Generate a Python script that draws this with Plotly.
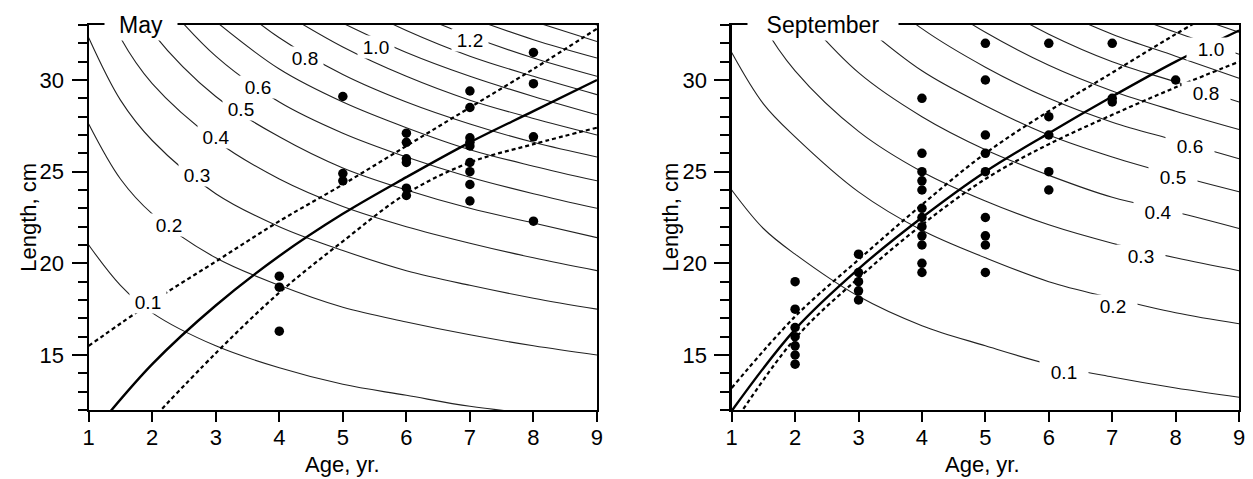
import plotly.graph_objects as go

# ---------------- data ----------------
contour_ages = [1, 1.5, 2, 3, 4, 5, 6, 7, 8, 9]

may_levels = [0.1, 0.2, 0.3, 0.4, 0.5, 0.6, 0.7, 0.8, 0.9, 1.0, 1.1, 1.2, 1.3, 1.4, 1.5]
may_contour_len = [
    [21.0, 18.8, 17.3, 15.5, 14.3, 13.4, 12.8, 12.2, 11.8, 11.4],
    [27.6, 24.6, 22.7, 20.3, 18.8, 17.6, 16.8, 16.1, 15.5, 15.0],
    [32.3, 28.9, 26.7, 23.8, 22.0, 20.7, 19.6, 18.8, 18.1, 17.5],
    [36.2, 32.3, 29.8, 26.7, 24.6, 23.1, 22.0, 21.1, 20.3, 19.6],
    [39.5, 35.3, 32.6, 29.1, 26.9, 25.2, 24.0, 23.0, 22.2, 21.4],
    [42.4, 37.9, 35.0, 31.3, 28.8, 27.1, 25.8, 24.7, 23.8, 23.0],
    [45.0, 40.2, 37.1, 33.2, 30.6, 28.8, 27.4, 26.2, 25.3, 24.5],
    [47.5, 42.4, 39.1, 35.0, 32.3, 30.3, 28.8, 27.6, 26.6, 25.8],
    [49.7, 44.4, 41.0, 36.6, 33.8, 31.8, 30.2, 28.9, 27.9, 27.0],
    [51.8, 46.3, 42.7, 38.2, 35.2, 33.1, 31.5, 30.2, 29.1, 28.1],
    [53.8, 48.0, 44.4, 39.6, 36.6, 34.4, 32.7, 31.3, 30.2, 29.2],
    [55.6, 49.7, 45.9, 41.0, 37.8, 35.6, 33.8, 32.4, 31.2, 30.2],
    [57.4, 51.3, 47.4, 42.3, 39.1, 36.7, 34.9, 33.4, 32.2, 31.2],
    [59.1, 52.8, 48.7, 43.6, 40.2, 37.8, 35.9, 34.4, 33.2, 32.1],
    [60.7, 54.3, 50.1, 44.8, 41.3, 38.8, 36.9, 35.4, 34.1, 33.0],
]
may_labels = ["0.1", "0.2", "0.3", "0.4", "0.5", "0.6", "0.8", "1.0", "1.2"]
may_label_age = [1.93, 2.27, 2.70, 3.00, 3.39, 3.67, 4.40, 5.52, 7.00]
may_label_len = [17.9, 22.1, 24.8, 26.9, 28.4, 29.6, 31.2, 31.8, 32.2]

sep_levels = [0.1, 0.2, 0.3, 0.4, 0.5, 0.6, 0.7, 0.8, 0.9, 1.0, 1.1]
sep_contour_len = [
    [24.0, 21.9, 20.5, 18.2, 16.6, 15.5, 14.5, 13.8, 13.2, 12.7],
    [31.5, 28.7, 26.9, 23.9, 21.8, 20.3, 19.0, 18.1, 17.3, 16.7],
    [36.9, 33.0, 30.5, 27.2, 25.0, 23.4, 22.1, 21.1, 20.3, 19.6],
    [41.3, 36.8, 34.0, 30.4, 28.0, 26.2, 24.8, 23.6, 22.8, 21.9],
    [45.1, 40.2, 37.2, 33.2, 30.5, 28.6, 27.0, 25.8, 24.8, 23.9],
    [48.5, 43.2, 39.9, 35.6, 32.8, 30.7, 29.0, 27.7, 26.7, 25.7],
    [51.5, 45.9, 42.4, 37.8, 34.8, 32.6, 30.8, 29.4, 28.3, 27.3],
    [54.2, 48.4, 44.7, 39.9, 36.7, 34.4, 32.5, 31.0, 29.9, 28.8],
    [56.8, 50.7, 46.8, 41.8, 38.4, 36.0, 34.0, 32.5, 31.3, 30.1],
    [59.2, 52.8, 48.7, 43.5, 40.0, 37.5, 35.5, 33.9, 32.6, 31.4],
    [61.5, 54.8, 50.6, 45.2, 41.6, 39.0, 36.8, 35.2, 33.8, 32.6],
]
sep_labels = ["0.1", "0.2", "0.3", "0.4", "0.5", "0.6", "0.8", "1.0"]
sep_label_age = [6.24, 7.02, 7.46, 7.72, 7.96, 8.22, 8.48, 8.55]
sep_label_len = [14.1, 17.7, 20.4, 22.8, 24.7, 26.4, 29.3, 31.7]

fit_ages = [1, 2, 3, 4, 5, 6, 7, 8, 9]
may_fit = [10.5, 14.5, 17.7, 20.4, 22.7, 24.7, 26.6, 28.3, 30.0]
may_upper = [15.5, 17.9, 20.1, 22.3, 24.3, 26.4, 28.5, 30.6, 32.8]
may_lower_ages = [2, 3, 4, 5, 6, 7, 8, 9]
may_lower = [11.5, 15.1, 18.4, 21.2, 23.8, 25.5, 26.5, 27.4]

sep_fit = [11.95, 16.4, 19.7, 22.5, 25.0, 27.1, 29.1, 31.0, 32.7]
sep_upper = [13.2, 17.1, 20.2, 23.2, 26.0, 28.3, 30.4, 32.5, 34.5]
sep_lower = [11.1, 15.9, 19.2, 22.1, 24.6, 26.5, 28.1, 29.6, 31.0]

may_dot_age = [4, 4, 4, 5, 5, 5, 6, 6, 6, 6, 6, 6,
               7, 7, 7, 7, 7, 7, 7, 7, 7, 8, 8, 8, 8]
may_dot_len = [19.3, 18.7, 16.3, 29.1, 24.9, 24.5, 27.1, 26.6, 25.7, 25.5, 24.1, 23.7,
               29.4, 28.5, 26.85, 26.6, 26.4, 25.5, 25.0, 24.3, 23.4, 31.5, 29.8, 26.9, 22.3]

sep_dot_age = [2] * 7 + [3] * 5 + [4] * 12 + [5] * 9 + [6] * 5 + [7] * 3 + [8]
sep_dot_len = [19.0, 17.5, 16.5, 16.0, 15.5, 15.0, 14.5,
               20.5, 19.5, 19.0, 18.5, 18.0,
               29.0, 26.0, 25.0, 24.5, 24.0, 23.0, 22.5, 22.0, 21.5, 21.0, 20.0, 19.5,
               32.0, 30.0, 27.0, 26.0, 25.0, 22.5, 21.5, 21.0, 19.5,
               32.0, 28.0, 27.0, 25.0, 24.0,
               32.0, 29.0, 28.8,
               30.0]

x_ticks = [1, 2, 3, 4, 5, 6, 7, 8, 9]
y_ticks = [15, 20, 25, 30]
y_range = [12, 33]
x_range = [1, 9]

# ---------------- figure ----------------
FONT = "Liberation Sans, Arial, Helvetica, sans-serif"
W, H = 1253, 479
fig = go.Figure()


def visible(ages, lens):
    xs, ys = [], []
    n = len(lens)
    for i in range(n):
        ok = any(y_range[0] - 0.01 <= lens[j] <= y_range[1] + 0.01
                 for j in range(max(0, i - 1), min(n, i + 2)))
        if ok:
            xs.append(ages[i])
            ys.append(lens[i])
    return xs, ys


def panel(xa, ya, contours, fit_x, fit_y, up_x, up_y, lo_x, lo_y, dx, dy):
    for lens in contours:
        xs, ys = visible(contour_ages, lens)
        fig.add_trace(go.Scatter(x=xs, y=ys, mode="lines", xaxis=xa, yaxis=ya,
                                 line=dict(color="#222222", width=1.1, shape="spline"),
                                 hoverinfo="skip", showlegend=False))
    fig.add_trace(go.Scatter(x=fit_x, y=fit_y, mode="lines", xaxis=xa, yaxis=ya,
                             line=dict(color="black", width=2.4, shape="spline"),
                             showlegend=False))
    for xs, ys in ((up_x, up_y), (lo_x, lo_y)):
        fig.add_trace(go.Scatter(x=xs, y=ys, mode="lines", xaxis=xa, yaxis=ya,
                                 line=dict(color="black", width=2.2, dash="4px,3px",
                                           shape="spline"),
                                 showlegend=False))
    fig.add_trace(go.Scatter(x=dx, y=dy, mode="markers", xaxis=xa, yaxis=ya,
                             marker=dict(color="black", size=9.5),
                             showlegend=False))


panel("x", "y", may_contour_len, fit_ages, may_fit, fit_ages, may_upper,
      may_lower_ages, may_lower, may_dot_age, may_dot_len)
panel("x2", "y2", sep_contour_len, fit_ages, sep_fit, fit_ages, sep_upper,
      fit_ages, sep_lower, sep_dot_age, sep_dot_len)

ann = []
for txt, a, l in zip(may_labels, may_label_age, may_label_len):
    ann.append(dict(x=a, y=l, xref="x", yref="y", text=txt, showarrow=False,
                    xanchor="center", yanchor="middle",
                    font=dict(size=19, color="black", family=FONT),
                    bgcolor="white", width=36, height=22, borderpad=0))
for txt, a, l in zip(sep_labels, sep_label_age, sep_label_len):
    ann.append(dict(x=a, y=l, xref="x2", yref="y2", text=txt, showarrow=False,
                    xanchor="center", yanchor="middle",
                    font=dict(size=19, color="black", family=FONT),
                    bgcolor="white", width=48, height=22, borderpad=0))

top = (H - 25) / H
bot = (H - 410) / H
ann += [
    dict(x=136.5 / W, y=top, xref="paper", yref="paper", text="May", showarrow=False,
         font=dict(size=23, color="black", family=FONT), bgcolor="white",
         width=72, height=30, borderpad=0, xanchor="center", yanchor="middle"),
    dict(x=825 / W, y=top, xref="paper", yref="paper", text="September", showarrow=False,
         font=dict(size=23, color="black", family=FONT), bgcolor="white",
         width=150, height=30, borderpad=0, xanchor="center", yanchor="middle"),
    dict(x=340 / W, y=(H - 464) / H, xref="paper", yref="paper", text="Age, yr.",
         xanchor="center", yanchor="middle",
         showarrow=False, font=dict(size=22, color="black", family=FONT)),
    dict(x=986 / W, y=(H - 464) / H, xref="paper", yref="paper", text="Age, yr.",
         xanchor="center", yanchor="middle",
         showarrow=False, font=dict(size=22, color="black", family=FONT)),
    dict(x=22 / W, y=(H - 217) / H, xref="paper", yref="paper", text="Length, cm",
         xanchor="center", yanchor="middle",
         textangle=-90, showarrow=False, font=dict(size=22, color="black", family=FONT)),
    dict(x=670 / W, y=(H - 217) / H, xref="paper", yref="paper", text="Length, cm",
         xanchor="center", yanchor="middle",
         textangle=-90, showarrow=False, font=dict(size=22, color="black", family=FONT)),
]

xcommon = dict(range=x_range, tickvals=x_ticks, ticks="outside", ticklen=10,
               tickwidth=2, tickcolor="black", showline=True, linewidth=2.2,
               linecolor="black", mirror=True, showgrid=False, zeroline=False,
               ticklabelstandoff=-4,
               tickfont=dict(size=22, color="black", family=FONT), fixedrange=True)
ycommon = dict(range=y_range, tickvals=y_ticks, ticks="outside", ticklen=15,
               tickwidth=2, tickcolor="black", showline=True, linewidth=2.2,
               linecolor="black", mirror=True, showgrid=False, zeroline=False,
               ticklabelstandoff=3,
               tickfont=dict(size=22, color="black", family=FONT), fixedrange=True,
               minor=dict(tickmode="linear", tick0=12, dtick=1, ticks="outside",
                          ticklen=9, tickwidth=2, tickcolor="black", showgrid=False))

fig.update_layout(
    width=W, height=H, autosize=False,
    margin=dict(l=0, r=0, t=0, b=0),
    paper_bgcolor="white", plot_bgcolor="white",
    font=dict(family=FONT, color="black"),
    xaxis=dict(domain=[83.5 / W, 596.7 / W], anchor="y", **xcommon),
    yaxis=dict(domain=[bot, top], anchor="x", **ycommon),
    xaxis2=dict(domain=[732.7 / W, 1245 / W], anchor="y2", **xcommon),
    yaxis2=dict(domain=[bot, top], anchor="x2", **ycommon),
    annotations=ann,
    showlegend=False,
    hovermode=False,
)

fig.write_html("out.html",
               config={"displayModeBar": False, "staticPlot": True},
               post_script="document.body.style.margin='0';"
                           "document.body.style.overflow='hidden';")
